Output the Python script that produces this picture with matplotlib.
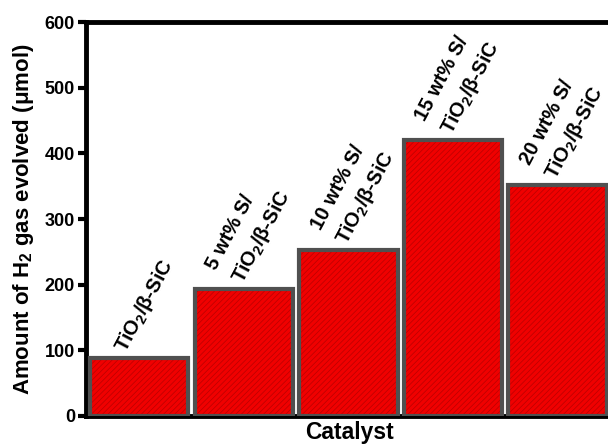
import matplotlib
matplotlib.use("Agg")
import matplotlib.pyplot as plt
import numpy as np

# === 資料 ===
catalysts = [
    "TiO$_2$/β-SiC",
    "5 wt% S/\nTiO$_2$/β-SiC",
    "10 wt% S/\nTiO$_2$/β-SiC",
    "15 wt% S/\nTiO$_2$/β-SiC",
    "20 wt% S/\nTiO$_2$/β-SiC",
]
h2_amount = [88, 193, 253, 420, 352]
y_ticks = [0, 100, 200, 300, 400, 500, 600]

# === 字型設定 ===
plt.rcParams["font.family"] = ["Liberation Sans", "DejaVu Sans"]
plt.rcParams["font.weight"] = "bold"
plt.rcParams["mathtext.fontset"] = "custom"
plt.rcParams["mathtext.default"] = "regular"
plt.rcParams["mathtext.rm"] = "Liberation Sans:bold"
plt.rcParams["mathtext.it"] = "Liberation Sans:bold"
plt.rcParams["mathtext.bf"] = "Liberation Sans:bold"
plt.rcParams["hatch.linewidth"] = 0.5

fig = plt.figure(figsize=(6.08, 4.46), dpi=100)
W, H = 608, 446
ax = fig.add_axes([86 / W, (H - 415.7) / H, (612 - 86) / W, (415.7 - 22.3) / H])

x = np.arange(len(h2_amount))
width = 0.94

# 紅色底 + 暗紅斜線
ax.bar(x, h2_amount, width=width, color="#f00000", edgecolor="#b80000",
       hatch="//////", linewidth=0, zorder=2)
# 灰色外框
ax.bar(x, h2_amount, width=width, fill=False, edgecolor="#505050",
       linewidth=3, zorder=3)

# 柱上標籤
for xi, val, lab in zip(x, h2_amount, catalysts):
    ax.text(xi + 0.05, val + 3, lab, rotation=62, ha="center", va="bottom",
            fontsize=14.5, fontweight="bold", multialignment="left",
            linespacing=1.5)

ax.set_xlim(-0.51, 4.52)
ax.set_ylim(0, 600)
ax.set_yticks(y_ticks)
ax.set_xticks([])

for side in ["left", "bottom", "top"]:
    ax.spines[side].set_linewidth(3.5)
ax.spines["right"].set_visible(False)

ax.tick_params(axis="y", direction="out", length=6, width=3, labelsize=13,
               pad=2)
for t in ax.get_yticklabels():
    t.set_fontweight("bold")

ax.set_ylabel("Amount of H$_2$ gas evolved (μmol)", fontsize=16,
              fontweight="bold", labelpad=6)
ax.set_xlabel("Catalyst", fontsize=16.5, fontweight="bold", labelpad=4)

fig.savefig("out.png", dpi=100)
